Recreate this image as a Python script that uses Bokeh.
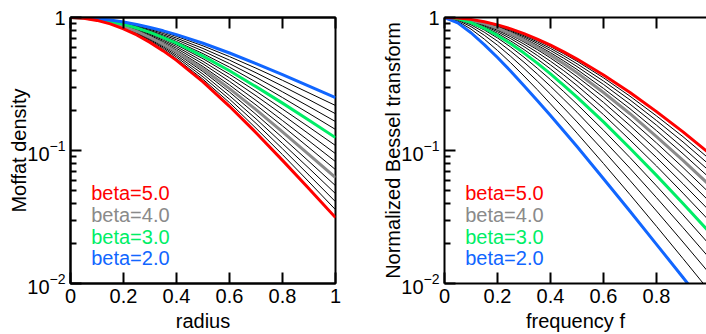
from bokeh.plotting import figure
from bokeh.models import LinearAxis, FixedTicker, Label, Range1d
from bokeh.layouts import row
from bokeh.embed import file_html
from bokeh.resources import INLINE

FONT = "Liberation Sans"

# ---------------- data ----------------
betas = [2.0, 2.2, 2.4, 2.6, 2.8, 3.0, 3.2, 3.4, 3.6, 3.8, 4.0, 4.2, 4.4, 4.6, 4.8, 5.0]

radius = [0.0, 0.05, 0.1, 0.15, 0.2, 0.25, 0.3, 0.35, 0.4, 0.5, 0.6, 0.7, 0.8, 0.9, 1.0]
moffat_2_0 = [1.0, 0.995, 0.980, 0.956, 0.925, 0.886, 0.842, 0.794, 0.743, 0.640, 0.541, 0.450, 0.372, 0.305, 0.250]
moffat_2_2 = [1.0, 0.995, 0.978, 0.952, 0.917, 0.875, 0.827, 0.776, 0.721, 0.612, 0.508, 0.416, 0.337, 0.271, 0.218]
moffat_2_4 = [1.0, 0.994, 0.976, 0.948, 0.910, 0.865, 0.813, 0.758, 0.700, 0.585, 0.478, 0.384, 0.305, 0.241, 0.189]
moffat_2_6 = [1.0, 0.994, 0.974, 0.944, 0.903, 0.854, 0.799, 0.740, 0.680, 0.560, 0.450, 0.355, 0.276, 0.214, 0.165]
moffat_2_8 = [1.0, 0.993, 0.973, 0.940, 0.896, 0.844, 0.786, 0.724, 0.660, 0.535, 0.423, 0.327, 0.250, 0.190, 0.144]
moffat_3_0 = [1.0, 0.993, 0.971, 0.935, 0.889, 0.834, 0.772, 0.707, 0.641, 0.512, 0.398, 0.302, 0.227, 0.169, 0.125]
moffat_3_2 = [1.0, 0.992, 0.969, 0.931, 0.882, 0.824, 0.759, 0.691, 0.622, 0.490, 0.374, 0.279, 0.205, 0.150, 0.109]
moffat_3_4 = [1.0, 0.992, 0.967, 0.927, 0.875, 0.814, 0.746, 0.675, 0.604, 0.468, 0.352, 0.258, 0.186, 0.133, 0.0947]
moffat_3_6 = [1.0, 0.991, 0.965, 0.923, 0.868, 0.804, 0.733, 0.660, 0.586, 0.448, 0.331, 0.238, 0.168, 0.118, 0.0825]
moffat_3_8 = [1.0, 0.991, 0.963, 0.919, 0.862, 0.794, 0.721, 0.645, 0.569, 0.428, 0.311, 0.220, 0.153, 0.105, 0.0718]
moffat_4_0 = [1.0, 0.990, 0.961, 0.915, 0.855, 0.785, 0.708, 0.630, 0.552, 0.410, 0.292, 0.203, 0.138, 0.0932, 0.0625]
moffat_4_2 = [1.0, 0.990, 0.959, 0.911, 0.848, 0.775, 0.696, 0.615, 0.536, 0.392, 0.275, 0.187, 0.125, 0.0827, 0.0544]
moffat_4_4 = [1.0, 0.989, 0.957, 0.907, 0.842, 0.766, 0.684, 0.601, 0.520, 0.375, 0.258, 0.173, 0.113, 0.0735, 0.0474]
moffat_4_6 = [1.0, 0.989, 0.955, 0.903, 0.835, 0.757, 0.673, 0.588, 0.505, 0.358, 0.243, 0.160, 0.103, 0.0653, 0.0412]
moffat_4_8 = [1.0, 0.988, 0.953, 0.899, 0.828, 0.748, 0.661, 0.574, 0.490, 0.343, 0.229, 0.147, 0.0931, 0.0580, 0.0359]
moffat_5_0 = [1.0, 0.988, 0.951, 0.895, 0.822, 0.739, 0.650, 0.561, 0.476, 0.328, 0.215, 0.136, 0.0843, 0.0515, 0.0313]

frequency = [0.0, 0.05, 0.1, 0.15, 0.2, 0.25, 0.3, 0.35, 0.4, 0.45, 0.5, 0.6, 0.7, 0.8, 0.9, 1.0]
bessel_2_0 = [1.0, 0.911, 0.768, 0.626, 0.500, 0.394, 0.307, 0.238, 0.183, 0.140, 0.107, 0.0613, 0.0349, 0.0197, 0.0111, 0.00620]
bessel_2_2 = [1.0, 0.937, 0.818, 0.688, 0.565, 0.456, 0.363, 0.287, 0.224, 0.175, 0.135, 0.0798, 0.0466, 0.0269, 0.0154, 0.00877]
bessel_2_4 = [1.0, 0.953, 0.854, 0.736, 0.619, 0.510, 0.414, 0.333, 0.265, 0.209, 0.164, 0.0997, 0.0595, 0.0351, 0.0205, 0.0119]
bessel_2_6 = [1.0, 0.965, 0.881, 0.775, 0.664, 0.557, 0.461, 0.376, 0.304, 0.243, 0.194, 0.120, 0.0735, 0.0442, 0.0263, 0.0155]
bessel_2_8 = [1.0, 0.972, 0.901, 0.806, 0.702, 0.599, 0.503, 0.416, 0.341, 0.277, 0.223, 0.142, 0.0885, 0.0542, 0.0328, 0.0196]
bessel_3_0 = [1.0, 0.977, 0.915, 0.830, 0.733, 0.635, 0.540, 0.454, 0.377, 0.309, 0.252, 0.164, 0.104, 0.0650, 0.0400, 0.0243]
bessel_3_2 = [1.0, 0.980, 0.926, 0.849, 0.760, 0.666, 0.574, 0.488, 0.410, 0.340, 0.280, 0.186, 0.120, 0.0765, 0.0478, 0.0295]
bessel_3_4 = [1.0, 0.983, 0.935, 0.865, 0.782, 0.693, 0.604, 0.519, 0.440, 0.370, 0.308, 0.208, 0.137, 0.0886, 0.0562, 0.0352]
bessel_3_6 = [1.0, 0.985, 0.942, 0.879, 0.801, 0.717, 0.631, 0.547, 0.469, 0.398, 0.334, 0.230, 0.154, 0.101, 0.0651, 0.0413]
bessel_3_8 = [1.0, 0.987, 0.948, 0.890, 0.818, 0.738, 0.655, 0.574, 0.496, 0.424, 0.359, 0.252, 0.171, 0.114, 0.0745, 0.0479]
bessel_4_0 = [1.0, 0.988, 0.953, 0.899, 0.832, 0.756, 0.677, 0.597, 0.521, 0.449, 0.384, 0.273, 0.189, 0.127, 0.0843, 0.0549]
bessel_4_2 = [1.0, 0.989, 0.957, 0.907, 0.844, 0.772, 0.696, 0.619, 0.544, 0.472, 0.407, 0.293, 0.206, 0.141, 0.0945, 0.0623]
bessel_4_4 = [1.0, 0.990, 0.960, 0.914, 0.855, 0.787, 0.714, 0.639, 0.565, 0.494, 0.428, 0.314, 0.223, 0.155, 0.105, 0.0700]
bessel_4_6 = [1.0, 0.991, 0.963, 0.920, 0.864, 0.800, 0.729, 0.657, 0.585, 0.515, 0.449, 0.333, 0.240, 0.168, 0.116, 0.0780]
bessel_4_8 = [1.0, 0.991, 0.966, 0.925, 0.873, 0.811, 0.744, 0.673, 0.603, 0.534, 0.469, 0.352, 0.256, 0.182, 0.127, 0.0863]
bessel_5_0 = [1.0, 0.992, 0.968, 0.930, 0.880, 0.821, 0.757, 0.689, 0.620, 0.552, 0.487, 0.370, 0.273, 0.196, 0.138, 0.0949]

moffat_curves = [moffat_2_0, moffat_2_2, moffat_2_4, moffat_2_6, moffat_2_8, moffat_3_0,
                 moffat_3_2, moffat_3_4, moffat_3_6, moffat_3_8, moffat_4_0, moffat_4_2,
                 moffat_4_4, moffat_4_6, moffat_4_8, moffat_5_0]
bessel_curves = [bessel_2_0, bessel_2_2, bessel_2_4, bessel_2_6, bessel_2_8, bessel_3_0,
                 bessel_3_2, bessel_3_4, bessel_3_6, bessel_3_8, bessel_4_0, bessel_4_2,
                 bessel_4_4, bessel_4_6, bessel_4_8, bessel_5_0]

x_ticks = [0.0, 0.2, 0.4, 0.6, 0.8, 1.0]
y_major = [0.01, 0.1, 1.0]
y_minor = [0.02, 0.03, 0.04, 0.05, 0.06, 0.07, 0.08, 0.09,
           0.2, 0.3, 0.4, 0.5, 0.6, 0.7, 0.8, 0.9]

legend_betas = [5.0, 4.0, 3.0, 2.0]
legend_y = [0.0481, 0.0325, 0.0222, 0.0156]
highlight = {2.0: "#1166ff", 3.0: "#00ee66", 4.0: "#8a8a8a", 5.0: "#ff0000"}


def style_axis(ax):
    ax.axis_line_width = 2
    ax.axis_line_color = "black"
    ax.major_tick_line_width = 2
    ax.minor_tick_line_width = 2
    ax.major_tick_line_color = "black"
    ax.minor_tick_line_color = "black"
    ax.major_tick_in = 11
    ax.major_tick_out = 0
    ax.minor_tick_in = 6
    ax.minor_tick_out = 0
    ax.major_label_text_font = FONT
    ax.major_label_text_font_size = "20px"
    ax.major_label_text_color = "black"
    ax.axis_label_text_font = FONT
    ax.axis_label_text_font_size = "20px"
    ax.axis_label_text_font_style = "normal"
    ax.axis_label_text_color = "black"


def panel(x, curves, xlabel, ylabel, width, border_left, border_right, x_end, outline):
    p = figure(width=width, height=334, x_range=Range1d(0, x_end), y_range=Range1d(0.01, 1.0),
               y_axis_type="log", output_backend="svg", toolbar_location=None,
               min_border_left=border_left, min_border_right=border_right,
               min_border_top=17, min_border_bottom=50)
    p.grid.visible = False
    p.background_fill_color = "white"
    p.border_fill_color = "white"
    if outline:
        p.outline_line_color = "black"
        p.outline_line_width = 2
        p.outline_line_alpha = 1.0
    else:
        p.outline_line_color = None

    xa = p.xaxis[0]
    style_axis(xa)
    xa.ticker = FixedTicker(ticks=x_ticks, minor_ticks=[])
    xa.major_label_overrides = {0: "0", 1: "1"}
    xa.axis_label = xlabel
    xa.major_label_standoff = 5
    xa.axis_label_standoff = 4

    ya = p.yaxis[0]
    style_axis(ya)
    ya.ticker = FixedTicker(ticks=y_major, minor_ticks=y_minor)
    ya.major_label_overrides = {1: "1"}
    ya.axis_label = ylabel
    ya.major_label_standoff = 5
    ya.axis_label_standoff = -6

    top = LinearAxis(ticker=FixedTicker(ticks=x_ticks, minor_ticks=[]))
    style_axis(top)
    top.major_label_text_font_size = "1px"
    top.major_label_text_color = None
    top.major_label_standoff = 0
    p.add_layout(top, "above")

    for b, c in zip(betas, curves):
        if b not in highlight:
            p.line(x, c, line_color="black", line_width=1)
    for b in [4.0, 3.0, 2.0, 5.0]:
        c = curves[betas.index(b)]
        p.line(x, c, line_color=highlight[b], line_width=3, line_join="round")

    for b, yb in zip(legend_betas, legend_y):
        p.add_layout(Label(x=0.078, y=yb, text="beta=%.1f" % b, text_color=highlight[b],
                           text_font=FONT, text_font_size="20px", text_baseline="alphabetic"))
    return p


p1 = panel(radius, moffat_curves, "radius", "Moffat density", 353, 70, 18, 1.0, True)
p2 = panel(frequency, bessel_curves, "frequency f", "Normalized Bessel transform", 353, 91, 0, 262 / 265, False)

layout = row(p1, p2)
open("out.html", "w").write(file_html(layout, INLINE))
